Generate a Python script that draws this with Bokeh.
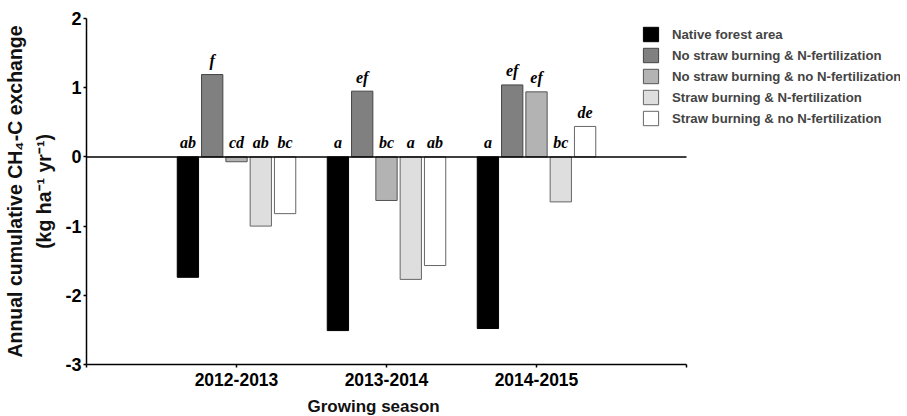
from bokeh.plotting import figure
from bokeh.models import FixedTicker, Legend, LegendItem, Range1d, Title
from bokeh.core.properties import value
from bokeh.embed import file_html
from bokeh.resources import INLINE

seasons = ["2012-2013", "2013-2014", "2014-2015"]
treatments = [
    "Native forest area",
    "No straw burning & N-fertilization",
    "No straw burning & no N-fertilization",
    "Straw burning & N-fertilization",
    "Straw burning & no N-fertilization",
]
native_forest = [-1.74, -2.51, -2.48]
nsb_nfert = [1.19, 0.95, 1.04]
nsb_no_nfert = [-0.07, -0.63, 0.94]
sb_nfert = [-1.00, -1.77, -0.65]
sb_no_nfert = [-0.82, -1.57, 0.44]
series = [native_forest, nsb_nfert, nsb_no_nfert, sb_nfert, sb_no_nfert]

letters_native = ["ab", "a", "a"]
letters_nsb_n = ["f", "ef", "ef"]
letters_nsb_nn = ["cd", "bc", "ef"]
letters_sb_n = ["ab", "a", "bc"]
letters_sb_nn = ["bc", "ab", "de"]
letters = [letters_native, letters_nsb_n, letters_nsb_nn, letters_sb_n, letters_sb_nn]

y_ticks = [-3, -2, -1, 0, 1, 2]
x_ticks = [0, 1, 2, 3, 4]

fills = ["#000000", "#808080", "#b3b3b3", "#dedede", "#ffffff"]
lines = ["#000000", "#444444", "#555555", "#666666", "#666666"]

axis_px = 600      # pixel length of the drawn x axis
frame_w = 814      # frame extends right so the legend is not clipped
x_end = x_ticks[-1] * frame_w / axis_px

p = figure(frame_width=frame_w, frame_height=346,
           x_range=Range1d(0, x_end), y_range=Range1d(y_ticks[0], y_ticks[-1]),
           output_backend="svg", toolbar_location=None,
           min_border_left=86, min_border_right=0, min_border_top=18,
           min_border_bottom=50)
p.outline_line_color = None
p.xgrid.visible = False
p.ygrid.visible = False
p.background_fill_color = "white"

pitch = 0.162
bw = 0.142
items = []
for i, (vals, lab) in enumerate(zip(series, letters)):
    xs = [k + 1 + (i - 2) * pitch for k in range(len(seasons))]
    r = p.vbar(x=xs, top=vals, bottom=0, width=bw,
               fill_color=fills[i], line_color=lines[i], line_width=1)
    items.append(LegendItem(label=treatments[i], renderers=[r]))
    ys = [max(v, 0) for v in vals]
    p.text(x=xs, y=ys, text=lab, text_align="center", text_baseline="alphabetic",
           y_offset=-14, text_font=value("Liberation Serif"),
           text_font_style="bold italic", text_font_size="16px", text_color="black")

# zero reference line, spanning the drawn x axis
p.line(x=[x_ticks[0], x_ticks[-1]], y=[0, 0], line_color="black", line_width=1.5)

legend = Legend(items=items, location=(555, 237), glyph_width=19, glyph_height=18,
                spacing=3, label_standoff=12, padding=0, margin=0,
                border_line_color=None, background_fill_alpha=0,
                label_text_font="Liberation Sans", label_text_font_style="bold",
                label_text_font_size="13.2px", label_height=18)
p.add_layout(legend)

xa = p.xaxis[0]
xa.ticker = FixedTicker(ticks=x_ticks)
xa.bounds = (x_ticks[0], x_ticks[-1])
overrides = {x_ticks[0]: "", x_ticks[-1]: ""}
for k, s in enumerate(seasons):
    overrides[k + 1] = s
xa.major_label_overrides = overrides
ya = p.yaxis[0]
ya.ticker = FixedTicker(ticks=y_ticks)
ya.major_label_overrides = {t: str(t) for t in y_ticks}
ya.axis_label = "Annual cumulative CH\u2084-C exchange\n(kg ha\u207b\u00b9 yr\u207b\u00b9)"

for ax in (xa, ya):
    ax.axis_line_width = 1.5
    ax.axis_line_color = "black"
    ax.major_tick_line_width = 1.5
    ax.major_tick_in = 0
    ax.major_tick_out = 3
    ax.minor_tick_in = 0
    ax.minor_tick_out = 0
    ax.major_label_text_font = "Liberation Sans"
    ax.major_label_text_font_style = "bold"
    ax.major_label_text_color = "black"
    ax.axis_label_text_font = "Liberation Sans"
    ax.axis_label_text_font_style = "bold"
    ax.axis_label_text_color = "#111111"

xa.major_label_text_font_size = "17.5px"
xa.major_label_standoff = 5
ya.axis_label_text_font_size = "19.5px"
ya.axis_label_text_line_height = 1.35
ya.major_label_text_font_size = "18px"
ya.major_label_standoff = 2
ya.axis_label_standoff = 7

# x-axis title, centred under the drawn axis (not the whole frame)
xtitle = Title(text="Growing season", align="left", offset=221, standoff=12,
               text_font="Liberation Sans", text_font_style="bold",
               text_font_size="17px", text_color="#111111")
p.add_layout(xtitle, "below")

open("out.html", "w").write(file_html(p, INLINE))
